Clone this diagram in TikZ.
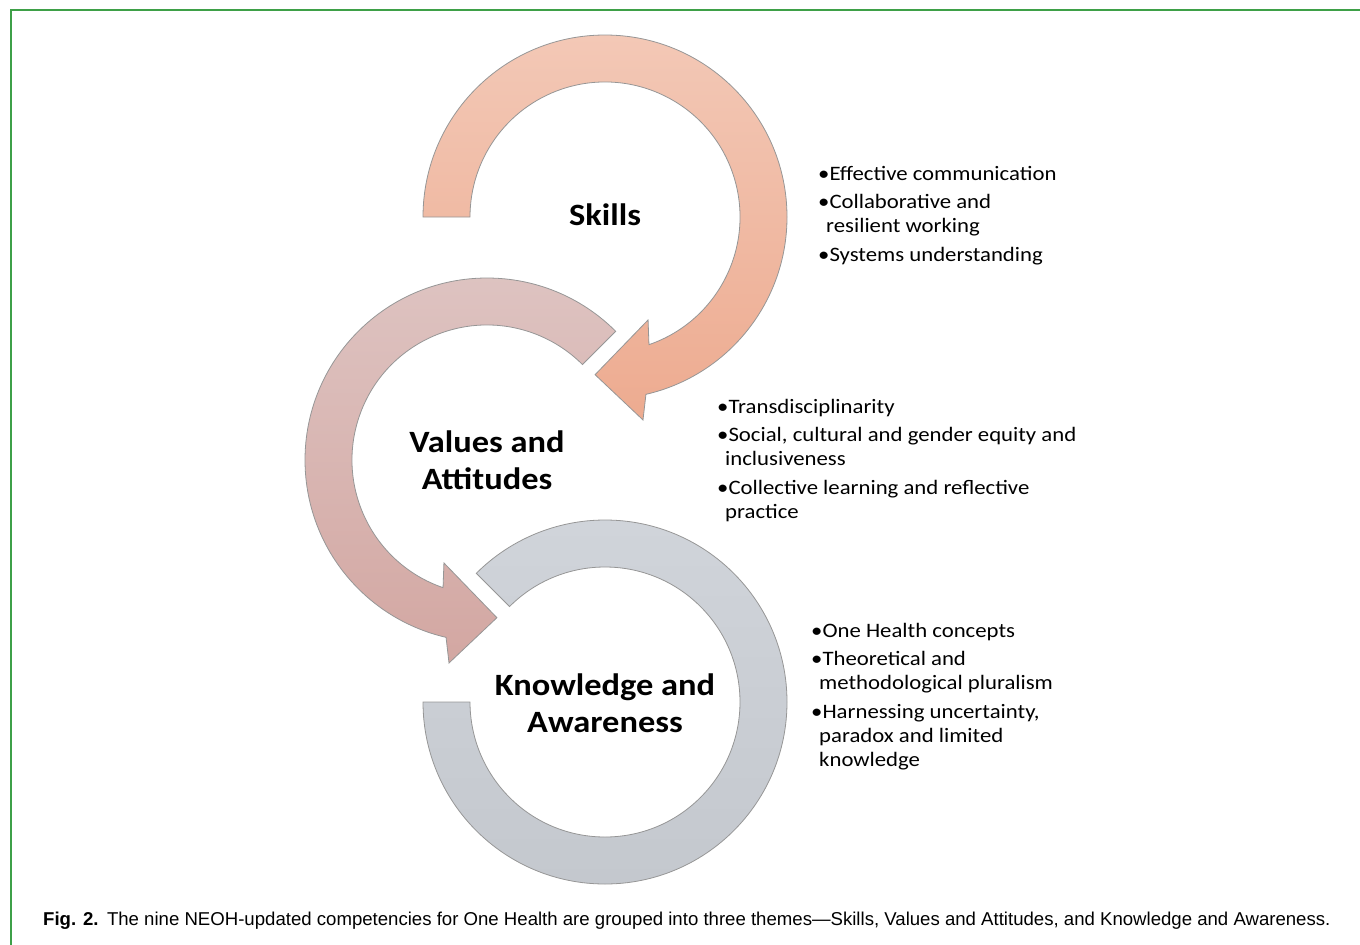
\documentclass[tikz,border=0pt]{standalone}
\usepackage{fontspec}
\setmainfont{Carlito}[FakeStretch=1.11]
\newfontfamily\capfont{Liberation Sans}
\definecolor{framegreen}{RGB}{62,160,72}
\definecolor{skillstop}{RGB}{243,200,182}
\definecolor{skillsbot}{RGB}{237,171,144}
\definecolor{valuestop}{RGB}{222,196,194}
\definecolor{valuesbot}{RGB}{211,167,162}
\definecolor{knowtop}{RGB}{208,212,218}
\definecolor{knowbot}{RGB}{196,200,206}
\definecolor{ringline}{RGB}{150,150,150}

\begin{document}
\begin{tikzpicture}[x=1pt, y=1pt,
    ring/.style={draw=ringline, line width=0.8pt},
    theme/.style={font=\fontsize{31}{37}\selectfont\bfseries, align=center},
    items/.style={font=\fontsize{20.5}{24}\selectfont, align=left, anchor=north west, inner sep=0pt}]
    \useasboundingbox (0, 0) rectangle (1360, -945);

    % Frame
    \draw[framegreen, line width=2.2] (11, -945) -- (11, -10) -- (1360, -10);

    % Skills arrow
    \draw[ring, top color=skillstop, bottom color=skillsbot, shift={(605, -217)}]
        (180:182) arc[start angle=180, end angle=-77, radius=182]
        -- (-79.4:206.5) -- (-93.6:158) -- (-67.3:111.6)
        -- (-71:135) arc[start angle=-71, end angle=180, radius=135] -- cycle;

    % Values and Attitudes arrow
    \draw[ring, top color=valuestop, bottom color=valuesbot, shift={(487, -460)}]
        (45:182) arc[start angle=45, end angle=257, radius=182]
        -- (259.4:206.5) -- (273.6:158) -- (247.3:111.6)
        -- (251:135) arc[start angle=251, end angle=45, radius=135] -- cycle;

    % Knowledge and Awareness ring
    \draw[ring, top color=knowtop, bottom color=knowbot, shift={(605, -702)}]
        (180:182) arc[start angle=180, end angle=495, radius=182]
        -- (495:135) arc[start angle=495, end angle=180, radius=135] -- cycle;

    % Theme labels
    \node[theme] (skills) at (605, -215) {Skills};
    \node[theme] (values) at (487, -460) {Values and\\Attitudes};
    \node[theme] (knowledge) at (605, -703) {Knowledge and\\Awareness};

    % Competencies
    \node[items] (skillsitems) at (818, -166) {•Effective communication\\[4.5pt]
        •Collaborative and\\\hspace*{8pt}resilient working\\[4.5pt]
        •Systems understanding};
    \node[items] (valuesitems) at (717, -399) {•Transdisciplinarity\\[4.5pt]
        •Social, cultural and gender equity and\\\hspace*{8pt}inclusiveness\\[4.5pt]
        •Collective learning and reflective\\\hspace*{8pt}practice};
    \node[items] (knowitems) at (811, -623) {•One Health concepts\\[4.5pt]
        •Theoretical and\\\hspace*{8pt}methodological pluralism\\[4.5pt]
        •Harnessing uncertainty,\\\hspace*{8pt}paradox and limited\\\hspace*{8pt}knowledge};

    % Caption
    \node[anchor=base west, inner sep=0pt, font=\capfont\fontsize{18.6}{22}\selectfont] (caption) at (43, -925)
        {\textbf{Fig. 2.}\hspace{0.45em}The nine NEOH-updated competencies for One Health are grouped into three themes—Skills, Values and Attitudes, and Knowledge and Awareness.};
\end{tikzpicture}
\end{document}
